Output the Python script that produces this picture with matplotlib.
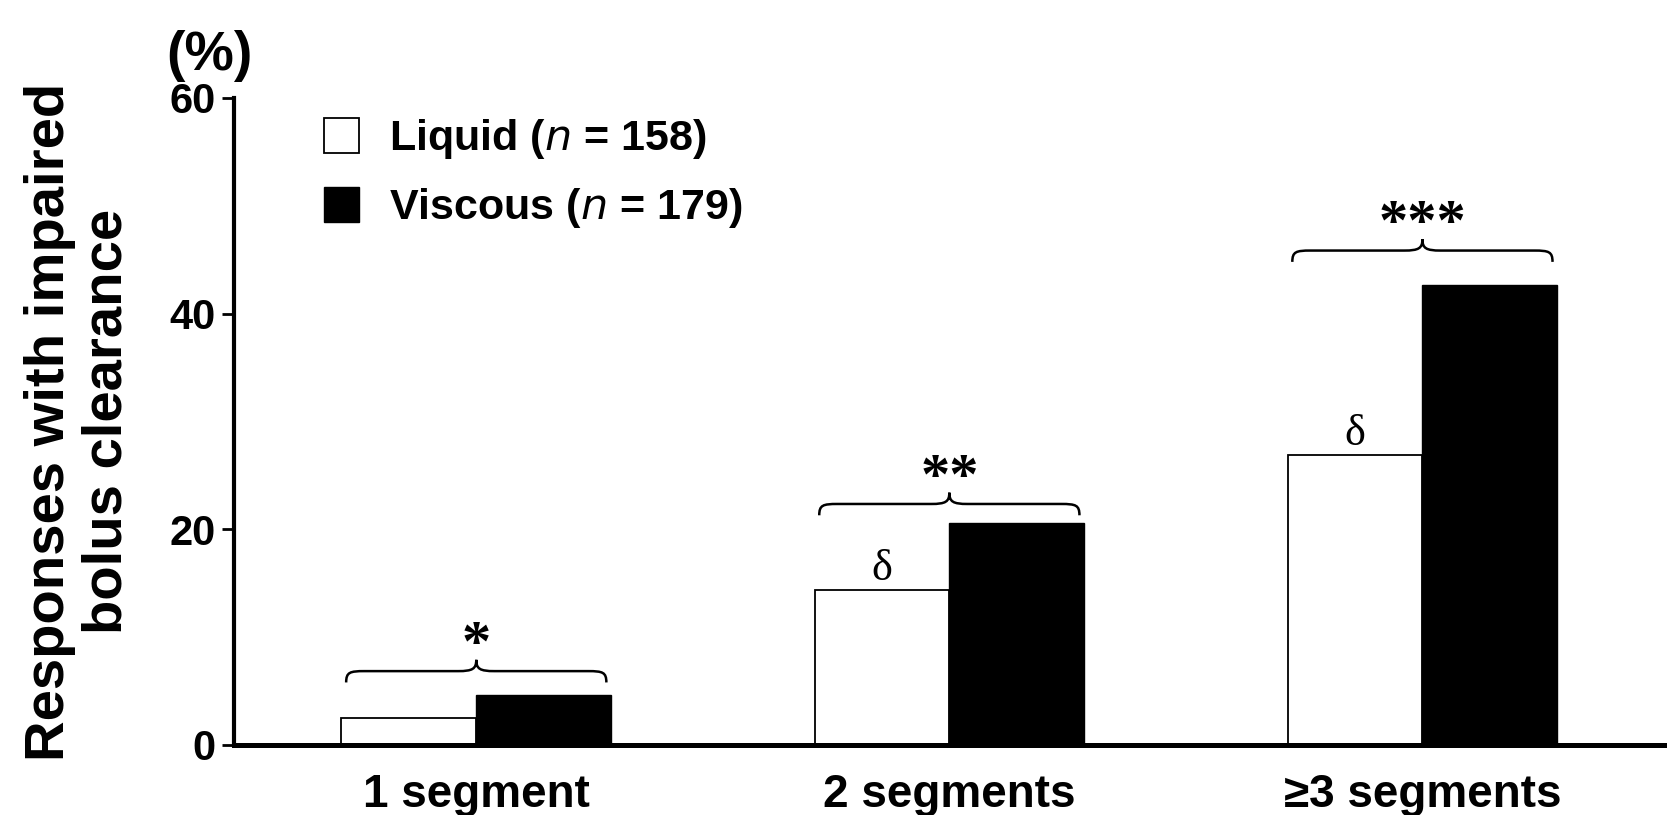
import numpy as np
import matplotlib
matplotlib.use("Agg")
import matplotlib.pyplot as plt
from matplotlib.patches import Patch, PathPatch
from matplotlib.path import Path

# ---- data ----
categories = ["1 segment", "2 segments", "\u22653 segments"]
liquid = [2.5, 14.4, 26.9]
viscous = [4.6, 20.6, 42.7]
series_labels = ["Liquid ($\\mathit{n}$ = 158)", "Viscous ($\\mathit{n}$ = 179)"]
yticks = [0, 20, 40, 60]
sig_marks = ["*", "**", "***"]
brace_base = [5.8, 21.3, 44.8]
delta_marks = ["", "\u03b4", "\u03b4"]

SANS = ["Liberation Sans", "DejaVu Sans"]
NARROW = ["Liberation Sans Narrow", "Liberation Sans", "DejaVu Sans"]
SERIF = ["Liberation Serif", "DejaVu Serif"]

fig = plt.figure(figsize=(16.67, 8.15), dpi=100)
ax = fig.add_axes([0.1404, 0.0859, 0.8596, 0.7939])

x = np.arange(len(categories))
w = 0.285
ax.bar(x - w / 2, liquid, w, color="white", edgecolor="black", linewidth=1.3, zorder=2)
ax.bar(x + w / 2, viscous, w, color="black", edgecolor="black", linewidth=1.0, zorder=2)

ax.set_xlim(-0.512, 2.517)
ax.set_ylim(0, 60)
ax.set_yticks(yticks)
ax.set_yticklabels([str(v) for v in yticks], family=NARROW, fontweight="bold", fontsize=30)
ax.set_xticks(x)
ax.set_xticklabels(categories, family=SANS, fontweight="bold", fontsize=33)
ax.tick_params(axis="x", length=0, pad=20)
ax.tick_params(axis="y", length=9, width=2, pad=4, direction="out")

for s in ["top", "right"]:
    ax.spines[s].set_visible(False)
ax.spines["left"].set_linewidth(3.0)
ax.spines["bottom"].set_linewidth(3.6)

ax.set_ylabel("Responses with impaired\nbolus clearance", family=SANS,
              fontweight="bold", fontsize=40.5, linespacing=1.15)
ax.yaxis.set_label_coords(-0.070, 0.5)
ax.text(-0.017, 1.065, "(%)", transform=ax.transAxes, ha="center", va="center",
        family=NARROW, fontweight="bold", fontsize=40)


def draw_brace(ax, x0, x1, y, h):
    xm = (x0 + x1) / 2
    dx = (x1 - x0) * 0.07
    yh = y + h * 0.5
    yt = y + h
    verts = [
        (x0, y),
        (x0, yh - h * 0.05), (x0 + dx * 0.2, yh), (x0 + dx, yh),
        (xm - dx, yh),
        (xm - dx * 0.2, yh), (xm, yh + h * 0.1), (xm, yt),
        (xm, yh + h * 0.1), (xm + dx * 0.2, yh), (xm + dx, yh),
        (x1 - dx, yh),
        (x1 - dx * 0.2, yh), (x1, yh - h * 0.05), (x1, y),
    ]
    codes = [Path.MOVETO,
             Path.CURVE4, Path.CURVE4, Path.CURVE4,
             Path.LINETO,
             Path.CURVE4, Path.CURVE4, Path.CURVE4,
             Path.CURVE4, Path.CURVE4, Path.CURVE4,
             Path.LINETO,
             Path.CURVE4, Path.CURVE4, Path.CURVE4]
    ax.add_patch(PathPatch(Path(verts, codes), facecolor="none",
                           edgecolor="black", linewidth=1.8, zorder=3))
    return xm, yt


brace_h = 2.1
inset = 0.01
for i in range(len(categories)):
    x0 = x[i] - w + inset
    x1 = x[i] + w - inset
    xm, yt = draw_brace(ax, x0, x1, brace_base[i], brace_h)
    ax.text(xm, yt + 0.0, sig_marks[i], ha="center", va="baseline",
            family=SERIF, fontweight="bold", fontsize=42)
    if delta_marks[i]:
        ax.text(x[i] - w / 2, liquid[i] + 0.9, delta_marks[i], ha="center",
                va="baseline", family=SERIF, fontsize=32)

handles = [Patch(facecolor="white", edgecolor="black", linewidth=1.3),
           Patch(facecolor="black", edgecolor="black")]
leg = ax.legend(handles, series_labels, loc="upper left", bbox_to_anchor=(0.036, 1.03),
                frameon=False, handlelength=0.8, handleheight=0.9,
                handletextpad=0.7, labelspacing=0.58,
                prop={"family": NARROW, "weight": "bold", "size": 31})

fig.savefig("out.png", dpi=100)
